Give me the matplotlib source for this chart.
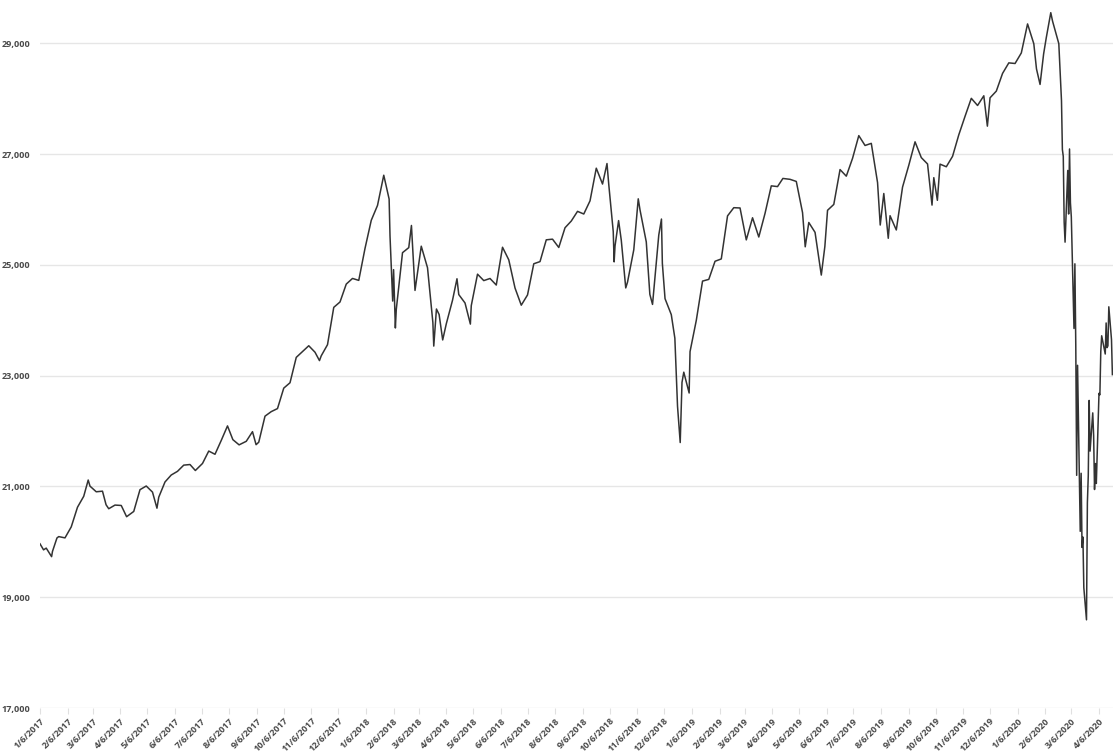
import numpy as np
import pandas as pd
import matplotlib
matplotlib.use('Agg')
import matplotlib.pyplot as plt
from matplotlib.ticker import FuncFormatter

plt.rcParams['font.family'] = ['Open Sans', 'DejaVu Sans']

# closes (weekly, plus a few extra days around the big moves)
dates_2017 = ['2017-01-06', '2017-01-10', '2017-01-13', '2017-01-19', '2017-01-20', '2017-01-25', '2017-01-27',
              '2017-02-03', '2017-02-10', '2017-02-17', '2017-02-24', '2017-03-01', '2017-03-03', '2017-03-10',
              '2017-03-17', '2017-03-21', '2017-03-24', '2017-03-31', '2017-04-07', '2017-04-13', '2017-04-21',
              '2017-04-28', '2017-05-05', '2017-05-12', '2017-05-17', '2017-05-19', '2017-05-26', '2017-06-02',
              '2017-06-09', '2017-06-16', '2017-06-23', '2017-06-29', '2017-07-07', '2017-07-14', '2017-07-21',
              '2017-07-28', '2017-08-04', '2017-08-10', '2017-08-17', '2017-08-25', '2017-09-01', '2017-09-05',
              '2017-09-08', '2017-09-15', '2017-09-22', '2017-09-29', '2017-10-06', '2017-10-13', '2017-10-20',
              '2017-10-27', '2017-11-03', '2017-11-10', '2017-11-15', '2017-11-17', '2017-11-24', '2017-12-01',
              '2017-12-08', '2017-12-15', '2017-12-22', '2017-12-29']
close_2017 = [19964, 19855, 19886, 19732, 19827, 20069, 20094,
              20071, 20269, 20624, 20822, 21115, 21005, 20903,
              20914, 20669, 20597, 20663, 20656, 20453, 20548,
              20941, 21007, 20897, 20607, 20805, 21080, 21206,
              21272, 21384, 21395, 21287, 21414, 21638, 21580,
              21830, 22092, 21844, 21750, 21814, 21988, 21753,
              21798, 22268, 22350, 22405, 22774, 22871, 23329,
              23434, 23539, 23422, 23271, 23358, 23558, 24232,
              24329, 24652, 24754, 24719]

dates_2018 = ['2018-01-05', '2018-01-12', '2018-01-19', '2018-01-26', '2018-02-01', '2018-02-02', '2018-02-05',
              '2018-02-06', '2018-02-08', '2018-02-09', '2018-02-16', '2018-02-23', '2018-02-26', '2018-03-02',
              '2018-03-09', '2018-03-16', '2018-03-22', '2018-03-23', '2018-03-26', '2018-03-29', '2018-04-02',
              '2018-04-06', '2018-04-13', '2018-04-18', '2018-04-20', '2018-04-27', '2018-05-03', '2018-05-04',
              '2018-05-11', '2018-05-18', '2018-05-25', '2018-06-01', '2018-06-08', '2018-06-15', '2018-06-22',
              '2018-06-29', '2018-07-06', '2018-07-13', '2018-07-20', '2018-07-27', '2018-08-03', '2018-08-10',
              '2018-08-17', '2018-08-24', '2018-08-31', '2018-09-07', '2018-09-14', '2018-09-21', '2018-09-28',
              '2018-10-03', '2018-10-05', '2018-10-10', '2018-10-11', '2018-10-12', '2018-10-16', '2018-10-19',
              '2018-10-24', '2018-10-26', '2018-11-02', '2018-11-07', '2018-11-09', '2018-11-16', '2018-11-20',
              '2018-11-23', '2018-11-30', '2018-12-03', '2018-12-04', '2018-12-07', '2018-12-14', '2018-12-18',
              '2018-12-21', '2018-12-24', '2018-12-26', '2018-12-28']
close_2018 = [25296, 25803, 26072, 26617, 26187, 25521, 24346,
              24913, 23860, 24191, 25219, 25310, 25710, 24538,
              25336, 24947, 23958, 23533, 24202, 24103, 23644,
              23933, 24360, 24748, 24463, 24311, 23930, 24263,
              24831, 24715, 24753, 24635, 25317, 25090, 24581,
              24271, 24456, 25019, 25058, 25451, 25463, 25313,
              25669, 25790, 25965, 25917, 26155, 26744, 26458,
              26828, 26447, 25599, 25053, 25340, 25798, 25444,
              24583, 24688, 25271, 26191, 25989, 25413, 24466,
              24285, 25538, 25826, 25027, 24389, 24101, 23676,
              22445, 21792, 22878, 23062]

dates_2019 = ['2019-01-03', '2019-01-04', '2019-01-11', '2019-01-18', '2019-01-25', '2019-02-01', '2019-02-08',
              '2019-02-15', '2019-02-22', '2019-03-01', '2019-03-08', '2019-03-15', '2019-03-22', '2019-03-29',
              '2019-04-05', '2019-04-12', '2019-04-18', '2019-04-26', '2019-05-03', '2019-05-10', '2019-05-13',
              '2019-05-17', '2019-05-24', '2019-05-31', '2019-06-04', '2019-06-07', '2019-06-14', '2019-06-21',
              '2019-06-28', '2019-07-05', '2019-07-12', '2019-07-19', '2019-07-26', '2019-08-02', '2019-08-05',
              '2019-08-09', '2019-08-14', '2019-08-16', '2019-08-23', '2019-08-30', '2019-09-06', '2019-09-13',
              '2019-09-20', '2019-09-27', '2019-10-02', '2019-10-04', '2019-10-08', '2019-10-11', '2019-10-18',
              '2019-10-25', '2019-11-01', '2019-11-08', '2019-11-15', '2019-11-22', '2019-11-29', '2019-12-03',
              '2019-12-06', '2019-12-13', '2019-12-20', '2019-12-27']
close_2019 = [22686, 23433, 23996, 24706, 24737, 25064, 25106,
              25883, 26031, 26026, 25450, 25849, 25502, 25929,
              26425, 26412, 26559, 26543, 26505, 25942, 25325,
              25764, 25586, 24815, 25332, 25984, 26090, 26719,
              26600, 26922, 27332, 27154, 27192, 26485, 25718,
              26287, 25479, 25886, 25629, 26403, 26797, 27220,
              26935, 26820, 26078, 26573, 26164, 26817, 26770,
              26958, 27347, 27681, 28005, 27876, 28051, 27503,
              28015, 28135, 28455, 28645]

dates_2020 = ['2020-01-03', '2020-01-10', '2020-01-17', '2020-01-24', '2020-01-27', '2020-01-31', '2020-02-04',
              '2020-02-07', '2020-02-12', '2020-02-14', '2020-02-21', '2020-02-24', '2020-02-25', '2020-02-26',
              '2020-02-27', '2020-02-28', '2020-03-02', '2020-03-03', '2020-03-04', '2020-03-05', '2020-03-06',
              '2020-03-09', '2020-03-10', '2020-03-11', '2020-03-12', '2020-03-13', '2020-03-16', '2020-03-17',
              '2020-03-18', '2020-03-19', '2020-03-20', '2020-03-23', '2020-03-24', '2020-03-25', '2020-03-26',
              '2020-03-27', '2020-03-30', '2020-03-31', '2020-04-01', '2020-04-02', '2020-04-03', '2020-04-06',
              '2020-04-07', '2020-04-08', '2020-04-09', '2020-04-13', '2020-04-14', '2020-04-15', '2020-04-16',
              '2020-04-17', '2020-04-20', '2020-04-21']
close_2020 = [28634, 28824, 29348, 28990, 28536, 28256, 28808,
              29103, 29551, 29398, 28992, 27961, 27081, 26957,
              25767, 25409, 26703, 25917, 27091, 26121, 25865,
              23851, 25018, 23553, 21200, 23186, 20189, 21237,
              19899, 20087, 19174, 18592, 20705, 21200, 22552,
              21637, 22327, 21917, 20944, 21413, 21053, 22680,
              22654, 23434, 23719, 23390, 23950, 23505, 23538,
              24242, 23650, 23018]

dates = pd.to_datetime(dates_2017 + dates_2018 + dates_2019 + dates_2020)
close = np.array(close_2017 + close_2018 + close_2019 + close_2020)

tick_dates = pd.date_range('2017-01-01', '2020-04-06', freq='MS') + pd.Timedelta(days=5)
y_ticks = [17000, 19000, 21000, 23000, 25000, 27000, 29000]

fig = plt.figure(figsize=(11.2, 7.54), dpi=100)
ax = fig.add_axes([0.0357, 0.061, 0.9583, 0.939])

ax.plot(dates, close, color='#333333', lw=1.1)

ax.set_xlim(pd.Timestamp('2017-01-06'), pd.Timestamp('2020-04-22'))
ax.set_ylim(17000, 29780)
ax.set_yticks(y_ticks)
ax.yaxis.set_major_formatter(FuncFormatter(lambda v, p: f'{int(v):,}'))
ax.set_xticks(tick_dates)
ax.set_xticklabels([f'{d.month}/{d.day}/{d.year}' for d in tick_dates],
                   rotation=45, ha='right', rotation_mode='anchor')

ax.grid(axis='y', color='#e6e6e6', lw=1)
ax.set_axisbelow(True)
for s in ax.spines.values():
    s.set_visible(False)
ax.tick_params(axis='y', length=0, pad=7, labelsize=6.6, labelcolor='#4a4a4a')
ax.tick_params(axis='x', length=4, color='#e0e0e0', pad=2, labelsize=6.6, labelcolor='#4a4a4a')
for lab in ax.get_xticklabels() + ax.get_yticklabels():
    lab.set_fontweight('bold')

fig.savefig('out.png', dpi=100)
